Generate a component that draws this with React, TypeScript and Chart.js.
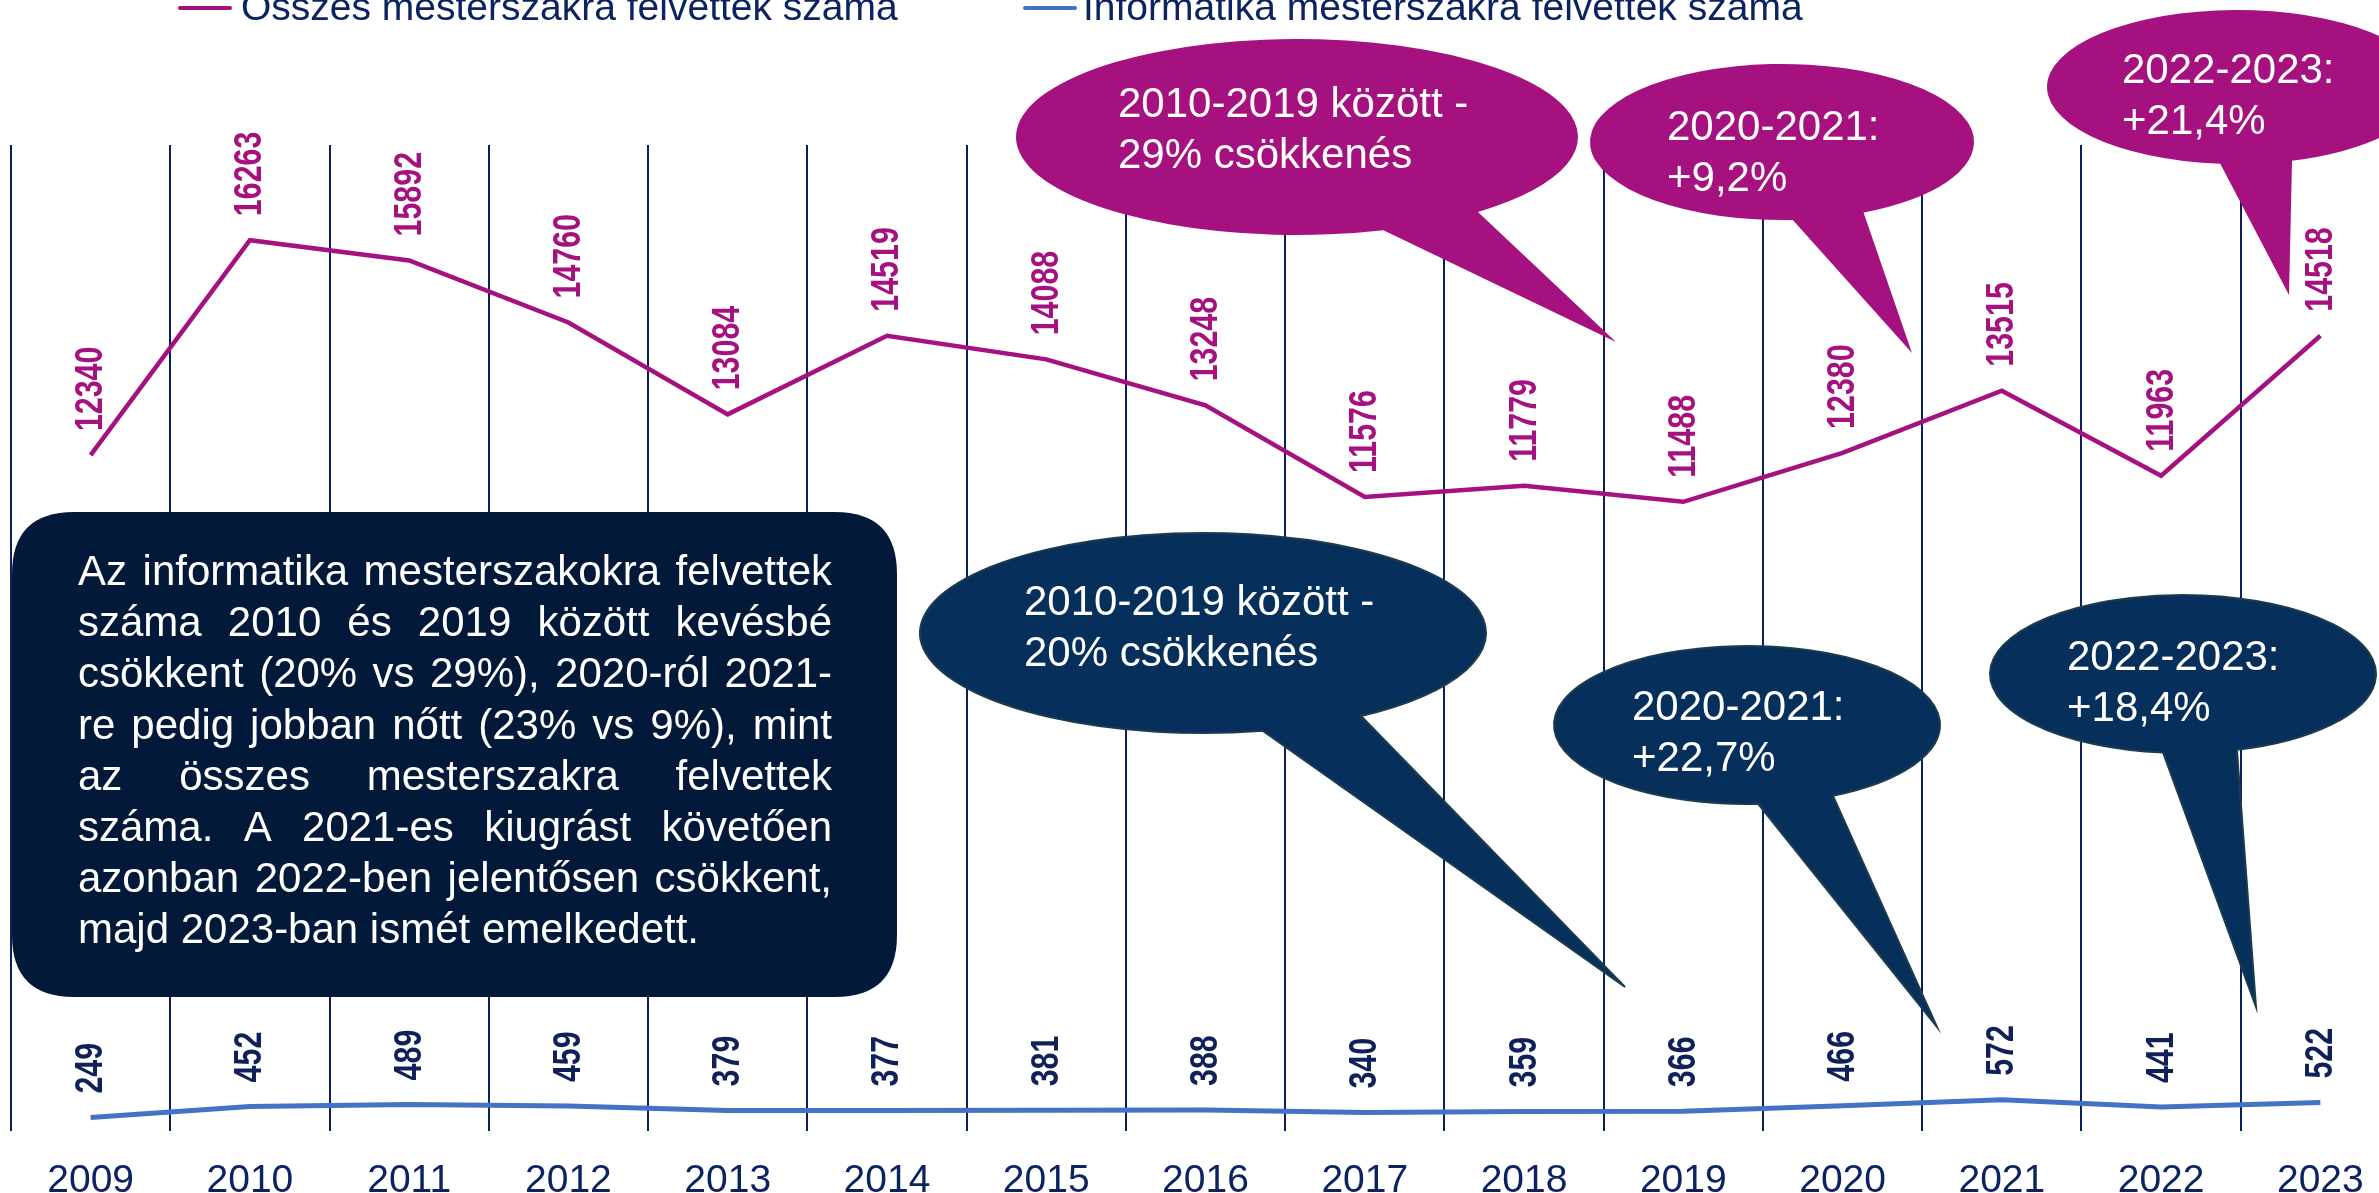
import React, { useEffect, useRef } from 'react';
import { Chart, registerables } from 'chart.js';

Chart.register(...registerables);

// ---------- data ----------
const years = ['2009', '2010', '2011', '2012', '2013', '2014', '2015', '2016', '2017', '2018', '2019', '2020', '2021', '2022', '2023'];
const totalAdmitted = [12340, 16263, 15892, 14760, 13084, 14519, 14088, 13248, 11576, 11779, 11488, 12380, 13515, 11963, 14518];
const itAdmitted = [249, 452, 489, 459, 379, 377, 381, 388, 340, 359, 366, 466, 572, 441, 522];
const seriesNames = ['Összes mesterszakra felvettek száma', 'Informatika mesterszakra felvettek száma'];

const noteLines = [
  'Az informatika mesterszakokra felvettek',
  'száma 2010 és 2019 között kevésbé',
  'csökkent (20% vs 29%), 2020-ról 2021-',
  're pedig jobban nőtt (23% vs 9%), mint',
  'az összes mesterszakra felvettek',
  'száma. A 2021-es kiugrást követően',
  'azonban 2022-ben jelentősen csökkent,',
  'majd 2023-ban ismét emelkedett.',
];

const totalCalloutTexts = [
  ['2010-2019 között -', '29% csökkenés'],
  ['2020-2021:', '+9,2%'],
  ['2022-2023:', '+21,4%'],
];
const itCalloutTexts = [
  ['2010-2019 között -', '20% csökkenés'],
  ['2020-2021:', '+22,7%'],
  ['2022-2023:', '+18,4%'],
];

// ---------- styles ----------
const W = 2400;
const H = 1232;
const MAGENTA = '#A5127F';
const BLUE = '#4472C4';
const NAVY_TEXT = '#0B2461';
const NAVY_LABEL = '#10215A';
const NAVY_FILL = '#072F5B';
const NAVY_BORDER = '#1C3C4E';
const BOX_FILL = '#03193A';
const GRID = '#0A1F5C';
const FONT = "'Liberation Sans', Arial, sans-serif";

// callout geometry (annotation shapes, pixels)
type Shape = { cx: number; cy: number; rx: number; ry: number; a: [number, number]; b: [number, number]; tip: [number, number]; tx: number; ty: number };
const totalShapes: Shape[] = [
  { cx: 1297, cy: 137, rx: 281, ry: 98, a: [1385, 232], b: [1478, 212], tip: [1616, 342], tx: 1118, ty: 117 },
  { cx: 1782, cy: 142, rx: 192, ry: 78, a: [1793, 221], b: [1864, 213], tip: [1912, 353], tx: 1667, ty: 140 },
  { cx: 2237, cy: 87, rx: 190, ry: 77, a: [2220, 165], b: [2293, 162], tip: [2289, 295], tx: 2122, ty: 83 },
];
const itShapes: Shape[] = [
  { cx: 1203, cy: 633, rx: 283, ry: 100, a: [1264, 733], b: [1363, 717], tip: [1625, 987], tx: 1024, ty: 615 },
  { cx: 1747, cy: 725, rx: 193, ry: 79, a: [1758, 803], b: [1832, 795], tip: [1937, 1027], tx: 1632, ty: 720 },
  { cx: 2183, cy: 674, rx: 193, ry: 79, a: [2163, 753], b: [2237, 750], tip: [2256, 1007], tx: 2067, ty: 670 },
];

function drawCallout(ctx: CanvasRenderingContext2D, s: Shape, lines: string[], fill: string, border: string | null) {
  const TWO_PI = Math.PI * 2;
  const tA = Math.atan2((s.a[1] - s.cy) / s.ry, (s.a[0] - s.cx) / s.rx);
  const tB = Math.atan2((s.b[1] - s.cy) / s.ry, (s.b[0] - s.cx) / s.rx);
  const d = (((tB - tA) % TWO_PI) + TWO_PI) % TWO_PI;
  let start: number, end: number;
  if (d > Math.PI) {
    start = tA;
    end = tA + d;
  } else {
    start = tB;
    end = tB + (TWO_PI - d);
  }
  ctx.beginPath();
  ctx.ellipse(s.cx, s.cy, s.rx, s.ry, 0, start, end, false);
  ctx.lineTo(s.tip[0], s.tip[1]);
  ctx.closePath();
  ctx.fillStyle = fill;
  ctx.fill();
  if (border) {
    ctx.strokeStyle = border;
    ctx.lineWidth = 2;
    ctx.lineJoin = 'miter';
    ctx.stroke();
  }
  ctx.fillStyle = '#FFFFFF';
  ctx.font = `42px ${FONT}`;
  ctx.textAlign = 'left';
  ctx.textBaseline = 'alphabetic';
  lines.forEach((ln, i) => ctx.fillText(ln, s.tx, s.ty + i * 51));
}

function drawJustified(ctx: CanvasRenderingContext2D, line: string, x: number, y: number, width: number, last: boolean) {
  const words = line.split(' ');
  if (last || words.length === 1) {
    ctx.fillText(line, x, y);
    return;
  }
  const widths = words.map((w) => ctx.measureText(w).width);
  const sum = widths.reduce((p, c) => p + c, 0);
  const gap = (width - sum) / (words.length - 1);
  let cx = x;
  words.forEach((w, i) => {
    ctx.fillText(w, cx, y);
    cx += widths[i] + gap;
  });
}

const overlayPlugin = {
  id: 'overlay',
  afterDatasetsDraw(chart: any) {
    const ctx: CanvasRenderingContext2D = chart.ctx;
    const colors = [MAGENTA, NAVY_LABEL];
    const values = [totalAdmitted, itAdmitted];
    ctx.save();
    ctx.font = `bold 38px ${FONT}`;
    ctx.textAlign = 'left';
    ctx.textBaseline = 'middle';
    chart.data.datasets.forEach((_ds: any, di: number) => {
      const meta = chart.getDatasetMeta(di);
      ctx.fillStyle = colors[di];
      meta.data.forEach((pt: any, j: number) => {
        ctx.save();
        ctx.translate(pt.x + 1, pt.y - 24);
        ctx.rotate(-Math.PI / 2);
        ctx.scale(0.8, 1);
        ctx.fillText(String(values[di][j]), 0, 0);
        ctx.restore();
      });
    });
    ctx.restore();
  },
  afterDraw(chart: any) {
    const ctx: CanvasRenderingContext2D = chart.ctx;
    ctx.save();
    // legend
    const legendItems = [
      { color: MAGENTA, x0: 180, x1: 230, tx: 241, text: seriesNames[0] },
      { color: BLUE, x0: 1025, x1: 1075, tx: 1083, text: seriesNames[1] },
    ];
    ctx.font = `39px ${FONT}`;
    ctx.textBaseline = 'alphabetic';
    ctx.textAlign = 'left';
    legendItems.forEach((it) => {
      ctx.strokeStyle = it.color;
      ctx.lineWidth = 4;
      ctx.lineCap = 'round';
      ctx.beginPath();
      ctx.moveTo(it.x0, 8);
      ctx.lineTo(it.x1, 8);
      ctx.stroke();
      ctx.fillStyle = NAVY_TEXT;
      ctx.fillText(it.text, it.tx, 20);
    });

    // callouts
    totalShapes.forEach((s, i) => drawCallout(ctx, s, totalCalloutTexts[i], MAGENTA, null));
    itShapes.forEach((s, i) => drawCallout(ctx, s, itCalloutTexts[i], NAVY_FILL, NAVY_BORDER));

    // note box
    const bx = 12, by = 512, bw = 885, bh = 485, r = 62;
    ctx.beginPath();
    ctx.moveTo(bx + r, by);
    ctx.lineTo(bx + bw - r, by);
    ctx.quadraticCurveTo(bx + bw, by, bx + bw, by + r);
    ctx.lineTo(bx + bw, by + bh - r);
    ctx.quadraticCurveTo(bx + bw, by + bh, bx + bw - r, by + bh);
    ctx.lineTo(bx + r, by + bh);
    ctx.quadraticCurveTo(bx, by + bh, bx, by + bh - r);
    ctx.lineTo(bx, by + r);
    ctx.quadraticCurveTo(bx, by, bx + r, by);
    ctx.closePath();
    ctx.fillStyle = BOX_FILL;
    ctx.fill();
    ctx.fillStyle = '#FFFFFF';
    ctx.font = `42px ${FONT}`;
    ctx.textAlign = 'left';
    noteLines.forEach((ln, i) => drawJustified(ctx, ln, 78, 585 + i * 51.2, 754, i === noteLines.length - 1));
    ctx.restore();
  },
};

export default function App() {
  const ref = useRef<HTMLCanvasElement | null>(null);
  useEffect(() => {
    if (!ref.current) return;
    const chart = new Chart(ref.current, {
      type: 'line',
      data: {
        labels: years,
        datasets: [
          {
            label: seriesNames[0],
            data: totalAdmitted,
            borderColor: MAGENTA,
            backgroundColor: MAGENTA,
            borderWidth: 4.5,
            pointRadius: 0,
            tension: 0,
          },
          {
            label: seriesNames[1],
            data: itAdmitted,
            borderColor: BLUE,
            backgroundColor: BLUE,
            borderWidth: 5,
            pointRadius: 0,
            tension: 0,
          },
        ],
      },
      options: {
        responsive: false,
        animation: false,
        devicePixelRatio: 1,
        layout: { padding: { left: 11, top: 145, right: 0, bottom: 0 } },
        plugins: { legend: { display: false }, tooltip: { enabled: false } },
        scales: {
          x: {
            type: 'category',
            offset: true,
            grid: { display: true, offset: true, color: GRID, lineWidth: 2, drawTicks: false },
            border: { display: false },
            ticks: {
              color: NAVY_TEXT,
              font: { family: FONT, size: 39 },
              padding: 27,
              maxRotation: 0,
              autoSkip: false,
            },
          },
          y: { display: false, min: 0, max: 18000 },
        },
      },
      plugins: [overlayPlugin],
    });
    return () => chart.destroy();
  }, []);

  return (
    <div style={{ position: 'fixed', left: 0, top: 0, width: '100vw', height: '100vh', overflow: 'hidden', background: '#FFFFFF' }}>
      <canvas ref={ref} width={W} height={H} style={{ display: 'block', width: `${W}px`, height: `${H}px` }} />
    </div>
  );
}
